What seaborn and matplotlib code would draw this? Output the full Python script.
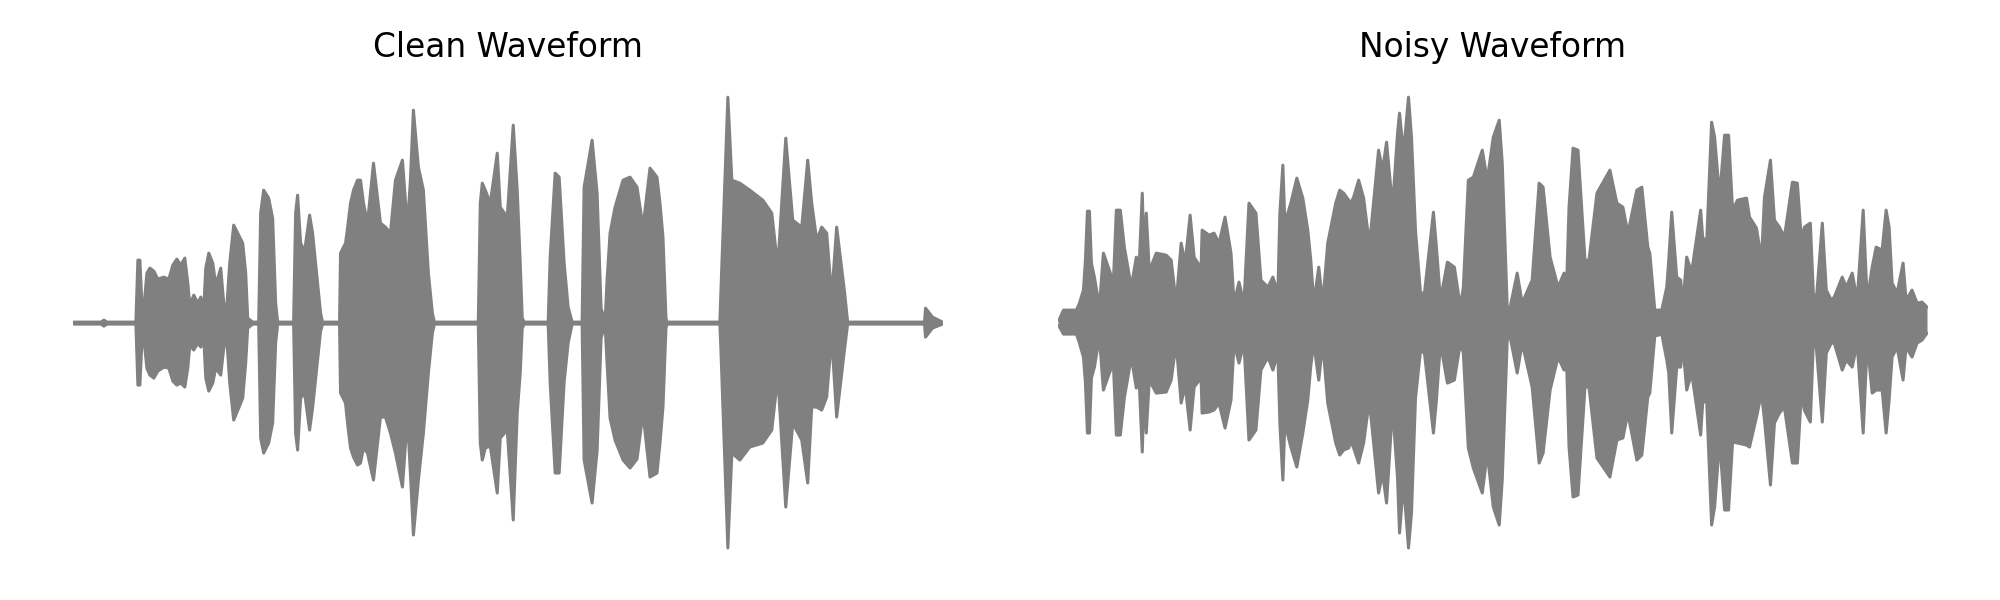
import numpy as np
import pandas as pd
import matplotlib
matplotlib.use('Agg')
import matplotlib.pyplot as plt
import seaborn as sns

sns.set_theme(style='white')
plt.rcParams['font.family'] = ['DejaVu Sans']

# envelope of the waveforms
# t = frame index, top / bot = peak amplitude above / below zero
clean_t = [0, 27, 30, 33, 62, 64, 66, 68, 70, 73, 76, 80, 84, 90, 95, 99, 103, 107, 111, 114,
           116, 120, 124, 127, 130, 132, 135, 139, 142, 147, 150, 153, 156, 160, 165, 169, 172, 174, 179, 185,
           187, 190, 195, 199, 202, 204, 220, 222, 224, 227, 231, 236, 239, 244, 247, 249, 266, 267, 272, 274,
           277, 280, 284, 287, 290, 294, 300, 307, 312, 317, 322, 329, 334, 337, 340, 345, 350, 355, 359, 361,
           405, 407, 409, 412, 417, 424, 427, 434, 440, 444, 447, 449, 451, 475, 477, 482, 486, 491, 495, 499,
           509, 511, 519, 524, 528, 532, 534, 537, 542, 550, 557, 564, 570, 577, 584, 587, 590, 593, 594, 647,
           648, 655, 659, 667, 677, 690, 699, 705, 713, 720, 729, 735, 739, 744, 749, 754, 759, 764, 772, 775,
           852, 853, 860, 870]
clean_top = [1, 1, 3, 1, 1, 63, 63, 20, 15, 50, 55, 52, 44, 46, 44, 58, 64, 58, 65, 40,
             18, 28, 20, 26, 15, 55, 70, 60, 38, 55, 20, 15, 60, 98, 88, 80, 50, 5, 1, 1,
             110, 133, 125, 105, 20, 1, 1, 110, 128, 80, 72, 108, 90, 40, 10, 1, 1, 70, 80, 95,
             120, 133, 143, 143, 120, 100, 160, 100, 96, 90, 143, 163, 96, 143, 213, 156, 133, 50, 10, 1,
             1, 120, 140, 133, 120, 170, 116, 106, 198, 133, 60, 5, 1, 1, 66, 150, 146, 60, 16, 1,
             1, 136, 183, 130, 15, 1, 43, 90, 116, 143, 146, 136, 96, 155, 146, 120, 86, 5, 1, 1,
             30, 226, 143, 140, 133, 123, 110, 56, 185, 103, 96, 163, 120, 83, 96, 90, 26, 96, 30, 1,
             1, 15, 6, 1]
clean_bot = [-1, -1, -3, -1, -1, -62, -62, -20, -15, -45, -52, -55, -48, -44, -45, -58, -62, -60, -64, -45,
             -22, -27, -20, -24, -15, -55, -68, -60, -45, -52, -25, -15, -60, -97, -85, -75, -40, -5, -1, -1,
             -115, -130, -120, -100, -20, -1, -1, -110, -127, -75, -70, -107, -85, -37, -8, -1, -1, -70, -80, -100,
             -125, -134, -142, -140, -125, -130, -157, -94, -94, -110, -130, -164, -94, -150, -212, -157, -110, -50, -10, -1,
             -1, -120, -137, -125, -123, -170, -115, -107, -197, -90, -50, -5, -1, -1, -60, -150, -150, -59, -20, -1,
             -1, -137, -180, -128, -15, -1, -40, -95, -117, -137, -145, -136, -90, -154, -150, -120, -84, -5, -1, -1,
             -25, -225, -130, -137, -124, -120, -107, -53, -184, -100, -117, -160, -84, -84, -87, -74, -14, -94, -25, -1,
             -1, -14, -5, -1]

noisy_t = [0, 5, 18, 21, 25, 27, 29, 31, 33, 36, 41, 45, 51, 55, 58, 62, 66, 73, 78, 81,
           84, 86, 88, 91, 98, 108, 113, 118, 123, 127, 132, 136, 143, 144, 151, 156, 161, 167, 173, 176,
           181, 186, 191, 198, 203, 210, 215, 220, 222, 225, 227, 233, 239, 245, 250, 253, 256, 261, 265, 270,
           278, 282, 286, 291, 293, 296, 301, 306, 310, 313, 321, 325, 329, 335, 340, 342, 346, 351, 354, 358,
           363, 367, 376, 379, 383, 390, 397, 403, 406, 411, 416, 425, 430, 436, 442, 445, 450, 453, 460, 465,
           475, 482, 486, 493, 501, 507, 509, 512, 516, 521, 528, 532, 540, 553, 560, 566, 571, 580, 585, 591,
           593, 598, 605, 610, 612, 615, 620, 624, 626, 630, 635, 644, 646, 650, 655, 658, 663, 668, 672, 676,
           681, 690, 693, 700, 705, 708, 714, 718, 723, 728, 736, 741, 745, 748, 754, 757, 760, 766, 770, 775,
           778, 786, 790, 796, 801, 807, 811, 816, 820, 826, 830, 833, 836, 841, 847, 850, 856, 861, 866, 871]
noisy_top = [2, 13, 13, 20, 33, 63, 112, 112, 60, 46, 16, 70, 53, 40, 113, 113, 76, 36, 66, 60,
             130, 60, 110, 52, 70, 68, 63, 20, 80, 60, 108, 66, 55, 93, 88, 90, 80, 106, 70, 20,
             41, 20, 120, 110, 43, 36, 46, 30, 110, 158, 100, 120, 145, 125, 93, 63, 20, 56, 20, 80,
             120, 133, 130, 123, 120, 126, 143, 125, 93, 90, 173, 153, 181, 116, 190, 210, 170, 226, 186, 93,
             30, 30, 111, 76, 23, 61, 56, 16, 36, 143, 146, 173, 143, 186, 203, 160, 16, 16, 50, 20,
             43, 140, 136, 66, 36, 50, 20, 116, 175, 173, 63, 63, 130, 153, 120, 116, 90, 133, 136, 76,
             70, 13, 13, 36, 63, 111, 46, 43, 16, 66, 51, 113, 86, 80, 201, 186, 126, 188, 188, 113,
             123, 125, 106, 95, 63, 126, 163, 103, 96, 86, 141, 140, 83, 96, 100, 30, 23, 100, 33, 23,
             26, 46, 36, 50, 23, 113, 23, 56, 76, 73, 113, 96, 40, 30, 60, 23, 33, 20, 21, 16]
noisy_bot = [-2, -11, -11, -20, -34, -60, -110, -110, -55, -44, -14, -67, -50, -40, -112, -112, -75, -34, -65, -60,
             -129, -60, -110, -57, -70, -69, -57, -20, -80, -62, -107, -64, -55, -90, -89, -87, -80, -105, -77, -20,
             -40, -20, -117, -107, -47, -34, -47, -30, -100, -157, -100, -124, -144, -110, -77, -43, -20, -57, -20, -80,
             -120, -132, -127, -125, -118, -125, -140, -120, -90, -90, -170, -150, -180, -84, -155, -210, -160, -225, -190, -75,
             -28, -30, -110, -77, -20, -60, -57, -20, -30, -125, -145, -170, -130, -184, -202, -157, -17, -14, -50, -20,
             -64, -140, -130, -67, -34, -47, -20, -124, -174, -172, -64, -64, -135, -154, -117, -115, -90, -137, -132, -74,
             -70, -13, -11, -37, -50, -110, -44, -44, -20, -67, -50, -112, -80, -77, -202, -184, -117, -187, -187, -119,
             -120, -122, -124, -94, -70, -97, -162, -100, -90, -84, -140, -140, -70, -87, -99, -20, -24, -99, -30, -20,
             -20, -47, -37, -44, -20, -110, -20, -70, -67, -67, -110, -77, -34, -24, -57, -24, -34, -20, -17, -10]

titles = ['Clean Waveform', 'Noisy Waveform']
wave_color = 'gray'


def draw_wave(ax, t, top, bot, title):
    df = pd.DataFrame({'t': t, 'top': top, 'bot': bot})
    # outline of the envelope, then fill the body between the two
    sns.lineplot(data=df, x='t', y='top', ax=ax, color=wave_color, lw=2.2, estimator=None)
    sns.lineplot(data=df, x='t', y='bot', ax=ax, color=wave_color, lw=2.2, estimator=None)
    ax.fill_between(df['t'], df['bot'], df['top'], color=wave_color, lw=0)
    ax.set_xlim(df['t'].min() - 1, df['t'].max() + 1)
    ax.set_ylim(-232, 232)
    ax.set_title(title, fontsize=23.6, pad=24.5, color='black')
    ax.axis('off')


fig, axes = plt.subplots(1, 2, figsize=(20, 6), dpi=100)
fig.subplots_adjust(left=0.0365, right=0.964, bottom=0.075, top=0.848, wspace=0.131)

draw_wave(axes[0], clean_t, clean_top, clean_bot, titles[0])
draw_wave(axes[1], noisy_t, noisy_top, noisy_bot, titles[1])

plt.savefig('out.png', dpi=100)
plt.close()
